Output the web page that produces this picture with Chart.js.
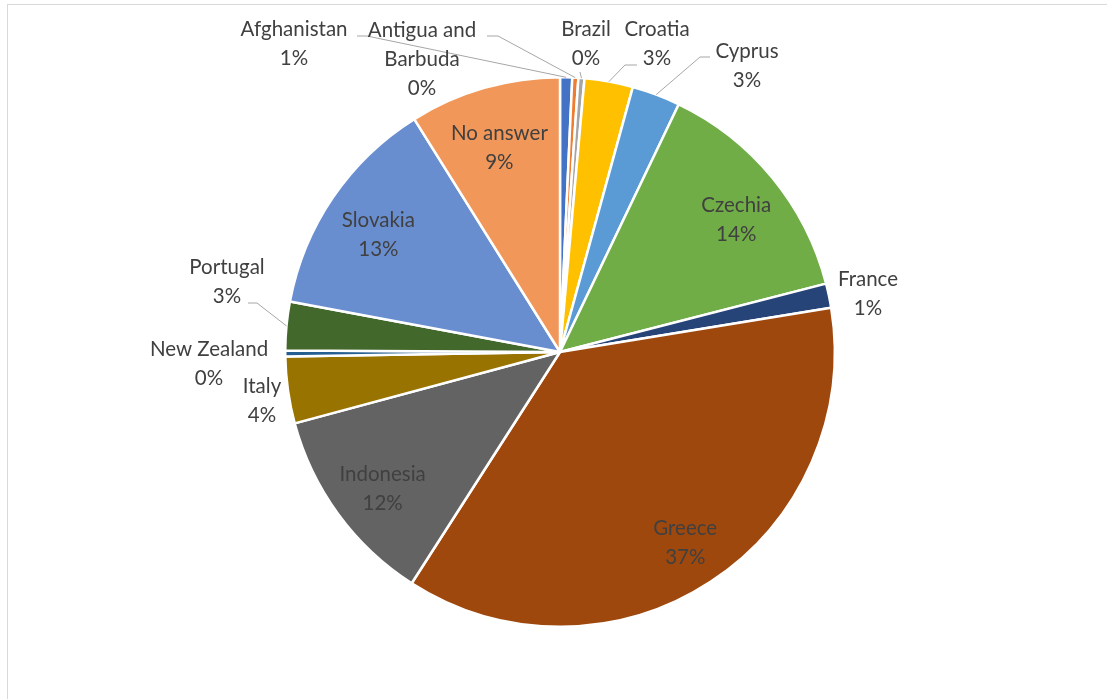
<!DOCTYPE html>
<html>
<head>
<meta charset="utf-8">
<script src="https://cdn.jsdelivr.net/npm/chart.js@4"></script>
<style>
  body { margin: 0; background: #fff; }
  #wrap { position: absolute; left: 0; top: 0; width: 1107px; height: 699px; }
  #frame { position: absolute; left: 7px; top: 4px; width: 1100px; height: 695px;
           border-top: 1px solid #D9D9D9; border-left: 1px solid #D9D9D9; box-sizing: border-box; }
</style>
</head>
<body>
<div id="frame"></div>
<div id="wrap"><canvas id="pieCanvas"></canvas></div>
<script>
// datos del gráfico
const countries = ['Afghanistan', 'Antigua and Barbuda', 'Brazil', 'Croatia', 'Cyprus', 'Czechia', 'France',
    'Greece', 'Indonesia', 'Italy', 'New Zealand', 'Portugal', 'Slovakia', 'No answer'];
const answers = [2, 1, 1, 8, 8, 39, 4, 103, 33, 11, 1, 8, 37, 25];
const sliceColors = ['#4472C4', '#ED7D31', '#A5A5A5', '#FFC000', '#5B9BD5', '#70AD47', '#264478',
    '#9E480E', '#636363', '#997300', '#255E91', '#43682B', '#698ED0', '#F1975A'];

// etiquetas: líneas de texto y posición (las que no están aquí van dentro de la porción)
const labelLines = {
    'Antigua and Barbuda': ['Antigua and', 'Barbuda']
};
const outsideLabels = {
    'Afghanistan': { x: 294, y: 44, leader: [357, 36, 367, 36] },
    'Antigua and Barbuda': { x: 422, y: 59, leader: [487, 36, 498, 36] },
    'Brazil': { x: 586, y: 44, leader: [580, 72, 580, 72] },
    'Croatia': { x: 657, y: 44, leader: [637, 65, 625, 65] },
    'Cyprus': { x: 747, y: 66, leader: [710, 57, 700, 57] },
    'France': { x: 868, y: 294, leader: null },
    'Italy': { x: 262, y: 401, leader: null },
    'New Zealand': { x: 209, y: 364, leader: null },
    'Portugal': { x: 227, y: 282, leader: [248, 303, 257, 303] }
};

const total = answers.reduce((a, b) => a + b, 0);

const labelPlugin = {
    id: 'pieLabels',
    afterDatasetsDraw(chart) {
        const ctx = chart.ctx;
        const arcs = chart.getDatasetMeta(0).data;
        ctx.save();
        ctx.font = '20.5px Lato, "Open Sans", sans-serif';
        ctx.fillStyle = '#404040';
        ctx.textAlign = 'center';
        ctx.textBaseline = 'middle';
        const lh = 29;
        arcs.forEach((arc, i) => {
            const p = arc.getProps(['x', 'y', 'startAngle', 'endAngle', 'outerRadius'], true);
            const mid = (p.startAngle + p.endAngle) / 2;
            const name = countries[i];
            const lines = (labelLines[name] || [name]).concat(Math.round(answers[i] / total * 100) + '%');
            let cx, cy;
            const out = outsideLabels[name];
            if (out) {
                cx = out.x; cy = out.y;
                if (out.leader) {
                    const ex = p.x + Math.cos(mid) * p.outerRadius;
                    const ey = p.y + Math.sin(mid) * p.outerRadius;
                    ctx.beginPath();
                    ctx.strokeStyle = '#A6A6A6';
                    ctx.lineWidth = 1;
                    ctx.moveTo(out.leader[0], out.leader[1]);
                    ctx.lineTo(out.leader[2], out.leader[3]);
                    ctx.lineTo(ex, ey);
                    ctx.stroke();
                }
            } else {
                const f = Math.cos(mid) > 0 ? 0.83 : 0.8;
                cx = p.x + Math.cos(mid) * p.outerRadius * f;
                cy = p.y + Math.sin(mid) * p.outerRadius * 0.8 + 7;
            }
            const top = cy - (lines.length - 1) * lh / 2;
            lines.forEach((t, k) => ctx.fillText(t, cx, top + k * lh));
        });
        ctx.restore();
    }
};

const ctx = document.getElementById('pieCanvas').getContext('2d');
new Chart(ctx, {
    type: 'pie',
    data: {
        labels: countries,
        datasets: [{
            data: answers,
            backgroundColor: sliceColors,
            borderColor: '#FFFFFF',
            borderWidth: 2.5
        }]
    },
    options: {
        responsive: true,
        maintainAspectRatio: false,
        animation: false,
        layout: { padding: { left: 13, right: 0, top: 76, bottom: 71 } },
        plugins: {
            legend: { display: false },
            tooltip: { enabled: false }
        }
    },
    plugins: [labelPlugin]
});
</script>
</body>
</html>
